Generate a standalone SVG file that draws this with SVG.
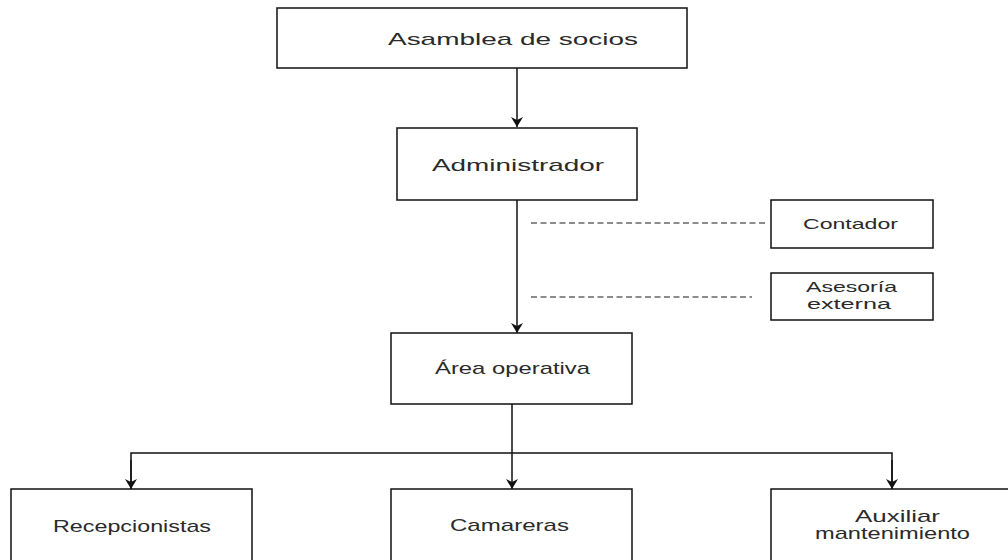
<svg xmlns="http://www.w3.org/2000/svg" width="1008" height="560" viewBox="0 0 1008 560">
<style>
.box{fill:#fff;stroke:#111;stroke-width:1.5}
.t{font-family:"Liberation Sans",Arial,sans-serif;fill:#2a2a2a}
.line{fill:none;stroke:#111;stroke-width:1.5}
.dash{fill:none;stroke:#1a1a1a;stroke-width:1.2;stroke-dasharray:6 3.5}
</style>
<defs>
<marker id="arr" viewBox="0 0 10 12" refX="10" refY="6" markerWidth="10" markerHeight="12" markerUnits="userSpaceOnUse" orient="auto">
<path d="M0,0 L10,6 L0,12 L3,6 Z" fill="#111"/>
</marker>
</defs>
<rect width="1008" height="560" fill="#fff"/>
<g id="connectors">
<line class="line" x1="517" y1="68" x2="517" y2="127" marker-end="url(#arr)"/>
<line class="line" x1="517" y1="200" x2="517" y2="333" marker-end="url(#arr)"/>
<line class="dash" x1="531" y1="223" x2="768" y2="223"/>
<line class="dash" x1="531" y1="297" x2="752" y2="297"/>
<line class="line" x1="512" y1="404" x2="512" y2="489" marker-end="url(#arr)"/>
<path class="line" d="M131,489 V453 H892 V489"/>
<line class="line" x1="131" y1="460" x2="131" y2="489" marker-end="url(#arr)"/>
<line class="line" x1="892" y1="460" x2="892" y2="489" marker-end="url(#arr)"/>
</g>
<g id="asamblea">
<rect class="box" x="277" y="8" width="410" height="60"/>
<text class="t" x="388" y="45" font-size="17" textLength="250" lengthAdjust="spacingAndGlyphs">Asamblea de socios</text>
</g>
<g id="administrador">
<rect class="box" x="397" y="128" width="240" height="72"/>
<text class="t" x="432" y="171" font-size="17" textLength="172" lengthAdjust="spacingAndGlyphs">Administrador</text>
</g>
<g id="contador">
<rect class="box" x="771" y="200" width="162" height="48"/>
<text class="t" x="803" y="229" font-size="15" textLength="95" lengthAdjust="spacingAndGlyphs">Contador</text>
</g>
<g id="asesoria">
<rect class="box" x="771" y="273" width="162" height="47"/>
<text class="t" x="806" y="292" font-size="15" textLength="91" lengthAdjust="spacingAndGlyphs">Asesoría</text>
<text class="t" x="807" y="309" font-size="15" textLength="84" lengthAdjust="spacingAndGlyphs">externa</text>
</g>
<g id="area">
<rect class="box" x="391" y="333" width="241" height="71"/>
<text class="t" x="435" y="374" font-size="17" textLength="155" lengthAdjust="spacingAndGlyphs">Área operativa</text>
</g>
<g id="recepcionistas">
<rect class="box" x="11" y="489" width="241" height="80"/>
<text class="t" x="53" y="532" font-size="17" textLength="158" lengthAdjust="spacingAndGlyphs">Recepcionistas</text>
</g>
<g id="camareras">
<rect class="box" x="391" y="489" width="241" height="80"/>
<text class="t" x="450" y="531" font-size="17" textLength="119" lengthAdjust="spacingAndGlyphs">Camareras</text>
</g>
<g id="auxiliar">
<rect class="box" x="771" y="489" width="241" height="80"/>
<text class="t" x="855" y="522" font-size="17" textLength="85" lengthAdjust="spacingAndGlyphs">Auxiliar</text>
<text class="t" x="815" y="539" font-size="17" textLength="155" lengthAdjust="spacingAndGlyphs">mantenimiento</text>
</g>
</svg>
